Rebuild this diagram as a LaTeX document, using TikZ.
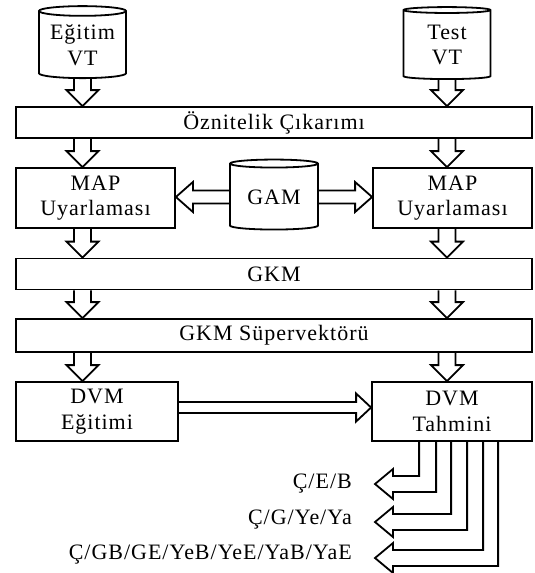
\documentclass[tikz,border=0pt]{standalone}
\usepackage{fontspec}
\setmainfont{Liberation Serif}[LetterSpace=4.5]
\usetikzlibrary{shapes.geometric, calc, positioning}

\begin{document}
\begin{tikzpicture}[
  x=1pt, y=-1pt,
  font=\fontsize{22}{25.5}\selectfont,
  box/.style  = {draw, line width=1.8pt, align=center, inner sep=0pt},
  bar/.style  = {box, minimum width=516pt, minimum height=31pt},
  blk/.style  = {box, minimum width=159pt, minimum height=60pt},
  db/.style   = {draw, line width=1.8pt, cylinder, shape border rotate=90,
                 aspect=0.15, align=center, inner sep=0pt,
                 minimum width=87pt, minimum height=72pt},
  harr/.style n args = {3}{line width=1.8pt, line join=miter,
    to path={($(\tikztostart)!#1!-90:(\tikztotarget)$)
      -- ($($(\tikztotarget)!#3!(\tikztostart)$)!#1!-90:(\tikztotarget)$)
      -- ($($(\tikztotarget)!#3!(\tikztostart)$)!#2!-90:(\tikztotarget)$)
      -- (\tikztotarget)
      -- ($($(\tikztotarget)!#3!(\tikztostart)$)!#2!90:(\tikztotarget)$)
      -- ($($(\tikztotarget)!#3!(\tikztostart)$)!#1!90:(\tikztotarget)$)
      -- ($(\tikztostart)!#1!90:(\tikztotarget)$)}},
  varr/.style = {harr={8.5pt}{16pt}{16pt}},
  garr/.style = {harr={6.5pt}{15pt}{17pt}},
  larr/.style = {harr={5.5pt}{14pt}{15pt}},
  oarr/.style = {line width=1.8pt, line join=miter},
  lbl/.style  = {inner sep=0pt, anchor=base east}
]
\useasboundingbox (0,0) rectangle (535,573);

% ── INPUT DATA ──────────────────────────────────────────
\node[db] (egt) at (82.5,45) {Eğitim\\VT};
\node[db] (tst) at (447,45)  {Test\\VT};

% ── FEATURES / ADAPTATION ───────────────────────────────
\node[bar] (feat) at (274,122.5) {Öznitelik Çıkarımı};
\node[blk] (mapl) at (95.5,198)  {MAP\\Uyarlaması};
\node[blk] (mapr) at (452.5,198) {MAP\\Uyarlaması};
\node[db, minimum width=88pt, minimum height=70pt] (gam) at (274,197) {GAM};
\node[bar] (gkm) at (274,274) {GKM};
\node[bar, minimum height=33pt] (sup) at (274,335.5) {GKM Süpervektörü};

% ── SVM ─────────────────────────────────────────────────
\node[blk, minimum width=162pt, minimum height=59pt] (egi) at (97,411.5) {DVM\\Eğitimi};
\node[blk, minimum width=160pt, minimum height=59pt] (tah) at (452,411.5) {DVM\\Tahmini};

% ── OUTPUTS ─────────────────────────────────────────────
\node[lbl] (o1) at (352,488) {Ç/E/B};
\node[lbl] (o2) at (352,524) {Ç/G/Ye/Ya};
\node[lbl] (o3) at (352,559) {Ç/GB/GE/YeB/YeE/YaB/YaE};

% ── ARROWS ──────────────────────────────────────────────
\draw[varr] (egt.south) to (feat.north -| egt.south);
\draw[varr] (tst.south) to (feat.north -| tst.south);
\draw[varr] (feat.south -| egt.south) to (mapl.north -| egt.south);
\draw[varr] (feat.south -| tst.south) to (mapr.north -| tst.south);
\draw[varr] (mapl.south -| egt.south) to (gkm.north -| egt.south);
\draw[varr] (mapr.south -| tst.south) to (gkm.north -| tst.south);
\draw[varr] (gkm.south -| egt.south) to (sup.north -| egt.south);
\draw[varr] (gkm.south -| tst.south) to (sup.north -| tst.south);
\draw[varr] (sup.south -| egt.south) to (egi.north -| egt.south);
\draw[varr] (sup.south -| tst.south) to (tah.north -| tst.south);

\draw[garr] (gam.west) to (mapl.east |- gam.west);
\draw[garr] (gam.east) to (mapr.west |- gam.east);
\draw[larr] ([yshift=4pt]egi.east) to ([yshift=4pt]tah.west);

\foreach \xa/\xb/\yc/\n in {48/65/484/1, 80/96/522/2, 112/127/558/3}{
  \coordinate (tip\n) at (375,\yc);
  \draw[oarr] ([xshift=\xa pt]tah.south west) |- ([shift={(18pt,8pt)}]tip\n)
    -- ([shift={(18pt,15pt)}]tip\n) -- (tip\n) -- ([shift={(18pt,-15pt)}]tip\n)
    -- ([shift={(18pt,-8pt)}]tip\n) -| ([xshift=\xb pt]tah.south west);
}

\end{tikzpicture}
\end{document}
